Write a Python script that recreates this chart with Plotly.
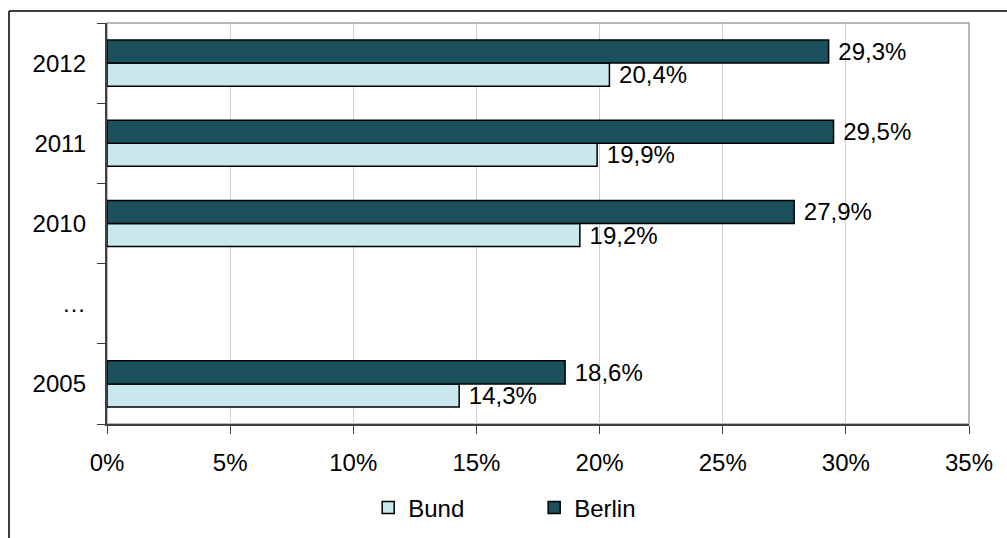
import plotly.graph_objects as go

# Category slots from bottom to top; the "…" slot stays empty
categories = ["2005", "…", "2010", "2011", "2012"]
bund = [14.3, None, 19.2, 19.9, 20.4]
berlin = [18.6, None, 27.9, 29.5, 29.3]
x_ticks = [0, 5, 10, 15, 20, 25, 30, 35]
x_tick_labels = [f"{v}%" for v in x_ticks]

pos = list(range(len(categories)))
font = dict(family="Liberation Sans, Arial, sans-serif", size=24, color="#000000")

fig = go.Figure()
fig.add_trace(go.Bar(
    name="Bund", orientation="h", y=pos, x=bund,
    marker=dict(color="#C8E8EE", line=dict(color="#000000", width=1.5)),
    texttemplate="\u00a0%{x:.1f}%", textposition="outside", textfont=font,
    constraintext="none", cliponaxis=False,
))
fig.add_trace(go.Bar(
    name="Berlin", orientation="h", y=pos, x=berlin,
    marker=dict(color="#1B505D", line=dict(color="#000000", width=1.5)),
    texttemplate="\u00a0%{x:.1f}%", textposition="outside", textfont=font,
    constraintext="none", cliponaxis=False,
))

# invisible trace to carry the category labels on the overlaid axis
fig.add_trace(go.Scatter(x=[None], y=[None], yaxis="y2", showlegend=False))

n = len(categories)
fig.update_layout(
    width=1007, height=538,
    margin=dict(l=107, r=38, t=23, b=114, autoexpand=False),
    paper_bgcolor="#FFFFFF", plot_bgcolor="#FFFFFF",
    separators=",.",
    barmode="group", bargap=0.425, bargroupgap=0,
    font=font,
    xaxis=dict(
        range=[0, 35], tickvals=x_ticks, ticktext=x_tick_labels,
        showgrid=True, gridcolor="#D0D0D0", gridwidth=1,
        showline=True, linecolor="#404040", linewidth=2,
        ticks="outside", ticklen=8, tickcolor="#404040",
        zeroline=False, tickfont=font, ticklabelstandoff=8,
        automargin=False,
    ),
    yaxis=dict(
        range=[-0.5, n - 0.5],
        tickvals=[i - 0.5 for i in range(n + 1)],
        ticktext=[""] * (n + 1),
        showgrid=False, zeroline=False,
        showline=True, linecolor="#404040", linewidth=2,
        ticks="outside", ticklen=8, tickcolor="#404040",
        automargin=False,
    ),
    yaxis2=dict(
        overlaying="y", side="left", range=[-0.5, n - 0.5],
        tickvals=pos, ticktext=categories, ticks="",
        showgrid=False, zeroline=False, showline=False,
        tickfont=font, ticklabelstandoff=20, automargin=False,
    ),
    legend=dict(
        orientation="h", x=0.303, xanchor="left", y=-0.2095, yanchor="middle",
        font=font, entrywidth=121, entrywidthmode="pixels",
        traceorder="normal",
    ),
    shapes=[
        # plot area frame (gray, top and right)
        dict(type="rect", xref="paper", yref="paper", x0=0, x1=1, y0=0, y1=1,
             line=dict(color="#A0A0A0", width=1.5), layer="below"),
        # outer chart border, top and left
        dict(type="line", xref="paper", yref="paper", x0=-0.1137, x1=1.1,
             y0=1.03, y1=1.03, line=dict(color="#000000", width=1.5)),
        dict(type="line", xref="paper", yref="paper", x0=-0.1137, x1=-0.1137,
             y0=1.03, y1=-0.3, line=dict(color="#000000", width=1.5)),
    ],
)

fig.write_html("out.html")
